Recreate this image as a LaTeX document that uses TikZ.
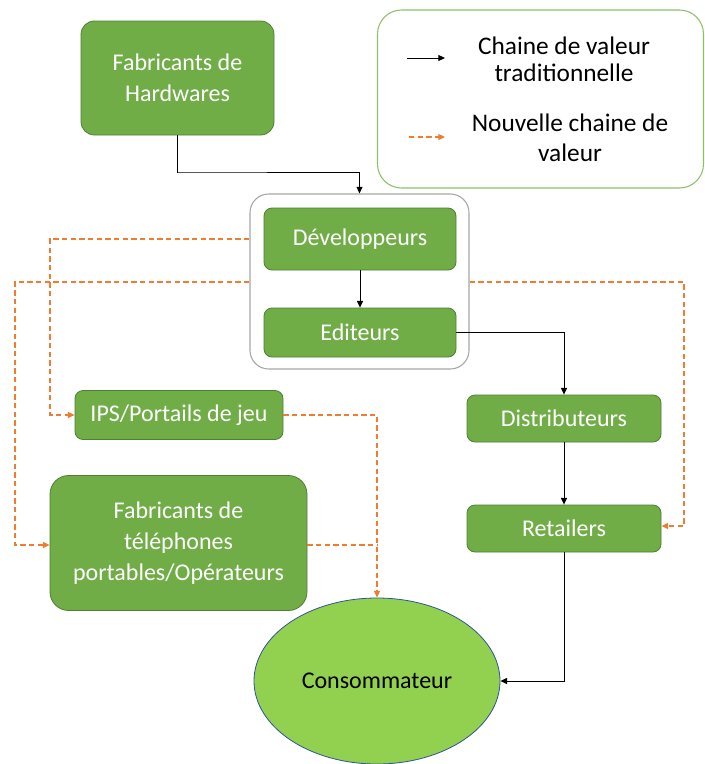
\documentclass[tikz,border=0pt]{standalone}
\usepackage{fontspec}
\setmainfont{Carlito}
\usetikzlibrary{arrows.meta,shapes.geometric}
\definecolor{boxgreen}{HTML}{70AD47}
\definecolor{boxedge}{HTML}{507E32}
\definecolor{consofill}{HTML}{92D050}
\definecolor{consoedge}{HTML}{2F5597}
\definecolor{newchain}{HTML}{ED7D31}
\definecolor{legendedge}{HTML}{8CC168}
\tikzset{
  actor/.style={draw=boxedge, fill=boxgreen, text=white, rounded corners=6pt,
    align=center, font=\fontsize{18}{23}\selectfont, line width=0.6pt},
  oldlink/.style={->, line width=0.75pt},
  newlink/.style={->, draw=newchain, line width=0.85pt, dash pattern=on 4pt off 2.5pt}
}
\begin{document}
\begin{tikzpicture}[x=0.75pt, y=-0.75pt, >={Triangle[length=5pt,width=4.5pt]}]
        \useasboundingbox (0,0) rectangle (704,764);
        % Legend
        \node[draw=legendedge, line width=0.8pt, rounded corners=18pt,
              minimum width=244.5pt, minimum height=133.5pt] (legend) at (540.5,99) {};
        \coordinate (oldA) at (407,58);
        \coordinate (oldB) at (445,58);
        \coordinate (newA) at (409,137);
        \coordinate (newB) at (445,137);
        \draw[oldlink] (oldA) -- (oldB);
        \draw[newlink, fill=newchain] (newA) -- (newB);
        \node[align=center, font=\fontsize{19}{20}\selectfont] (oldtxt) at (564,59) {Chaine de valeur\\traditionnelle};
        \node[align=center, font=\fontsize{19}{22.5}\selectfont] (newtxt) at (570,138) {Nouvelle chaine de\\valeur};
        % Studio group
        \node[draw=gray!70, line width=0.8pt, rounded corners=14pt,
              minimum width=164.25pt, minimum height=131.25pt] (studio) at (359.5,281.5) {};
        % Actors
        \node[actor, rounded corners=10pt, minimum width=144.75pt, minimum height=85.5pt] (hardware) at (177.5,78) {Fabricants de\\Hardwares};
        \node[actor, minimum width=144pt, minimum height=46.5pt] (dev) at (360,239) {Développeurs};
        \node[actor, minimum width=144pt, minimum height=36.75pt] (edit) at (360,332.5) {Editeurs};
        \node[actor, minimum width=145.5pt, minimum height=35.25pt] (distrib) at (564,418.5) {Distributeurs};
        \node[actor, minimum width=145.5pt, minimum height=35.25pt] (retail) at (564,528.5) {Retailers};
        \node[actor, minimum width=156pt, minimum height=36.75pt] (ips) at (179,415) {IPS/Portails de jeu};
        \node[actor, rounded corners=14pt, minimum width=192.75pt, minimum height=101.25pt] (tel) at (178.5,543) {Fabricants de\\téléphones\\portables/Opérateurs};
        % Consumer
        \node[ellipse, draw=consoedge, fill=consofill, line width=0.6pt,
              minimum width=184.5pt, minimum height=124.5pt,
              font=\fontsize{18}{20}\selectfont] (conso) at (377,681) {Consommateur};
        % Traditional chain
        \draw[oldlink] (hardware.south) |- (177,172) -| (studio.north);
        \draw[oldlink] (dev) -- (edit);
        \draw[oldlink] (edit.east) -| (distrib.north);
        \draw[oldlink] (distrib) -- (retail);
        \draw[oldlink] (retail.south) |- (conso.east);
        % New chain
        \draw[newlink] (studio.west |- dev) -| (50,415) -- (ips.west);
        \draw[newlink] (studio.west |- 0,282) -| (15,545) -- (tel.west |- 0,545);
        \draw[newlink] (studio.east |- 0,282) -| (684,526) -- (retail.east |- 0,526);
        \draw[newlink] (ips.east) -| (conso.north);
        \draw[newchain, line width=0.85pt, dash pattern=on 4pt off 2.5pt] (tel.east |- 0,545) -- (377,545);
\end{tikzpicture}
\end{document}
